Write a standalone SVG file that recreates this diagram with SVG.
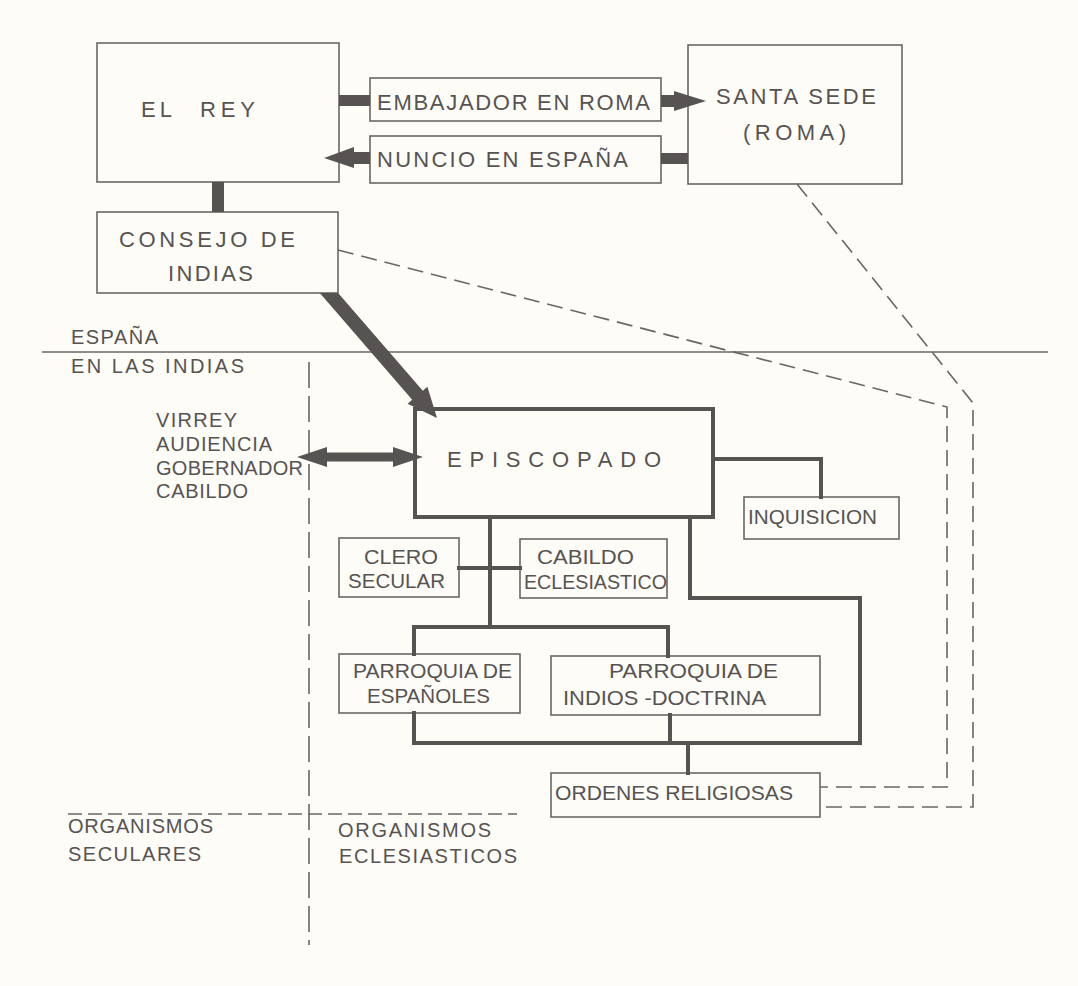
<svg xmlns="http://www.w3.org/2000/svg" width="1078" height="986" viewBox="0 0 1078 986">
<style>
text{font-family:"Liberation Sans","DejaVu Sans",sans-serif;fill:#575353;font-size:20px}
.big{font-size:22px}
.box{fill:none;stroke:#6a6666;stroke-width:1.6}
.thick{fill:none;stroke:#575353;stroke-width:4;stroke-linejoin:miter;stroke-linecap:square}
.fill{fill:#575353}
.dash{fill:none;stroke:#6a6666;stroke-width:1.6;stroke-dasharray:16 8}
.dash2{fill:none;stroke:#6a6666;stroke-width:1.6;stroke-dasharray:14 6}
.vdash{fill:none;stroke:#6a6666;stroke-width:1.6;stroke-dasharray:26 8}
</style>
<rect width="1078" height="986" fill="#fdfcf6"/>
<g id="nodes">
<g id="el-rey"><rect class="box" x="97" y="43" width="242" height="139"/><text class="big" x="141" y="117"><tspan textLength="31" lengthAdjust="spacing">EL</tspan><tspan x="200" textLength="55" lengthAdjust="spacing">REY</tspan></text></g>
<g id="embajador"><rect class="box" x="370" y="78" width="291" height="43"/><text class="big" x="377" y="110" textLength="273" lengthAdjust="spacing">EMBAJADOR EN ROMA</text></g>
<g id="nuncio"><rect class="box" x="370" y="136" width="291" height="47"/><text class="big" x="377" y="167" textLength="251" lengthAdjust="spacing">NUNCIO EN ESPAÑA</text></g>
<g id="santa-sede"><rect class="box" x="688" y="45" width="214" height="139"/><text class="big" x="716" y="104" textLength="160" lengthAdjust="spacing">SANTA SEDE</text><text class="big" x="743" y="140" textLength="103" lengthAdjust="spacing">(ROMA)</text></g>
<g id="consejo"><rect class="box" x="97" y="212" width="241" height="81"/><text class="big" x="119" y="247" textLength="176" lengthAdjust="spacing">CONSEJO DE</text><text class="big" x="168" y="281" textLength="85" lengthAdjust="spacing">INDIAS</text></g>
<g id="episcopado"><rect fill="none" stroke="#575353" stroke-width="4" x="415" y="409" width="298" height="108"/><text class="big" x="447" y="467" textLength="214" lengthAdjust="spacing">EPISCOPADO</text></g>
<g id="inquisicion"><rect class="box" x="744" y="497" width="155" height="42"/><text x="748" y="524" textLength="129" lengthAdjust="spacingAndGlyphs">INQUISICION</text></g>
<g id="clero-secular"><rect class="box" x="339" y="538" width="120" height="59"/><text x="364" y="564" textLength="74" lengthAdjust="spacingAndGlyphs">CLERO</text><text x="348" y="588" textLength="97" lengthAdjust="spacingAndGlyphs">SECULAR</text></g>
<g id="cabildo-eclesiastico"><rect class="box" x="520" y="539" width="147" height="59"/><text x="537" y="564" textLength="97" lengthAdjust="spacingAndGlyphs">CABILDO</text><text x="524" y="589" textLength="143" lengthAdjust="spacingAndGlyphs">ECLESIASTICO</text></g>
<g id="parroquia-espanoles"><rect class="box" x="339" y="654" width="181" height="59"/><text x="353" y="678" textLength="159" lengthAdjust="spacingAndGlyphs">PARROQUIA DE</text><text x="367" y="703" textLength="123" lengthAdjust="spacingAndGlyphs">ESPAÑOLES</text></g>
<g id="parroquia-indios"><rect class="box" x="551" y="656" width="269" height="59"/><text x="609" y="678" textLength="169" lengthAdjust="spacingAndGlyphs">PARROQUIA DE</text><text x="563" y="705" textLength="203" lengthAdjust="spacingAndGlyphs">INDIOS -DOCTRINA</text></g>
<g id="ordenes"><rect class="box" x="551" y="773" width="269" height="44"/><text x="555" y="800" textLength="238" lengthAdjust="spacingAndGlyphs">ORDENES RELIGIOSAS</text></g>
<g id="organismos-seculares-civiles"><text x="156" y="427" textLength="81" lengthAdjust="spacing">VIRREY</text><text x="156" y="451" textLength="116" lengthAdjust="spacing">AUDIENCIA</text><text x="156" y="475" textLength="147" lengthAdjust="spacing">GOBERNADOR</text><text x="156" y="498" textLength="92" lengthAdjust="spacing">CABILDO</text></g>
</g>
<g id="labels">
<text x="71" y="344" textLength="87" lengthAdjust="spacing">ESPAÑA</text>
<text x="71" y="373" textLength="173" lengthAdjust="spacing">EN LAS INDIAS</text>
<text x="68" y="833" textLength="145" lengthAdjust="spacing">ORGANISMOS</text>
<text x="68" y="861" textLength="133" lengthAdjust="spacing">SECULARES</text>
<text x="338" y="837" textLength="153" lengthAdjust="spacing">ORGANISMOS</text>
<text x="339" y="863" textLength="178" lengthAdjust="spacing">ECLESIASTICOS</text>
</g>
<g id="dividers">
<path d="M42 352 H1048" fill="none" stroke="#6a6666" stroke-width="1.6"/>
<path class="dash2" d="M68 814 H517"/>
<path class="vdash" d="M309 362 V945"/>
</g>
<g id="connectors">
<rect class="fill" x="339" y="95" width="31" height="11"/>
<polygon class="fill" points="661,95 674,95 674,91 706,101 674,111 674,107 661,107"/>
<rect class="fill" x="661" y="153" width="27" height="11"/>
<polygon class="fill" points="370,152 354,152 354,147 324,158 354,168 354,164 370,164"/>
<rect class="fill" x="212" y="182" width="12" height="30"/>
<polygon class="fill" points="319.8,293 338.1,293 422.8,390.7 427.4,386.7 437,418 407.6,403.7 412.2,399.7"/>
<polygon class="fill" points="297,457 327,447 327,452.5 393,452.5 393,447 423,457 393,467 393,461.5 327,461.5 327,467"/>
<path class="thick" d="M713 459 H821 V497"/>
<path class="thick" d="M490 517 V627"/>
<path class="thick" d="M414 654 V627 H668 V656"/>
<path class="thick" d="M459 568 H520"/>
<path class="thick" d="M690 517 V598 H860 V743"/>
<path class="thick" d="M414 713 V743 H860"/>
<path class="thick" d="M670 715 V743"/>
<path class="thick" d="M688 743 V773"/>
<path class="dash" d="M338 250 L947 407 V787 H820"/>
<path class="dash" d="M797 184 L973 403 V807 H820"/>
</g>
</svg>
